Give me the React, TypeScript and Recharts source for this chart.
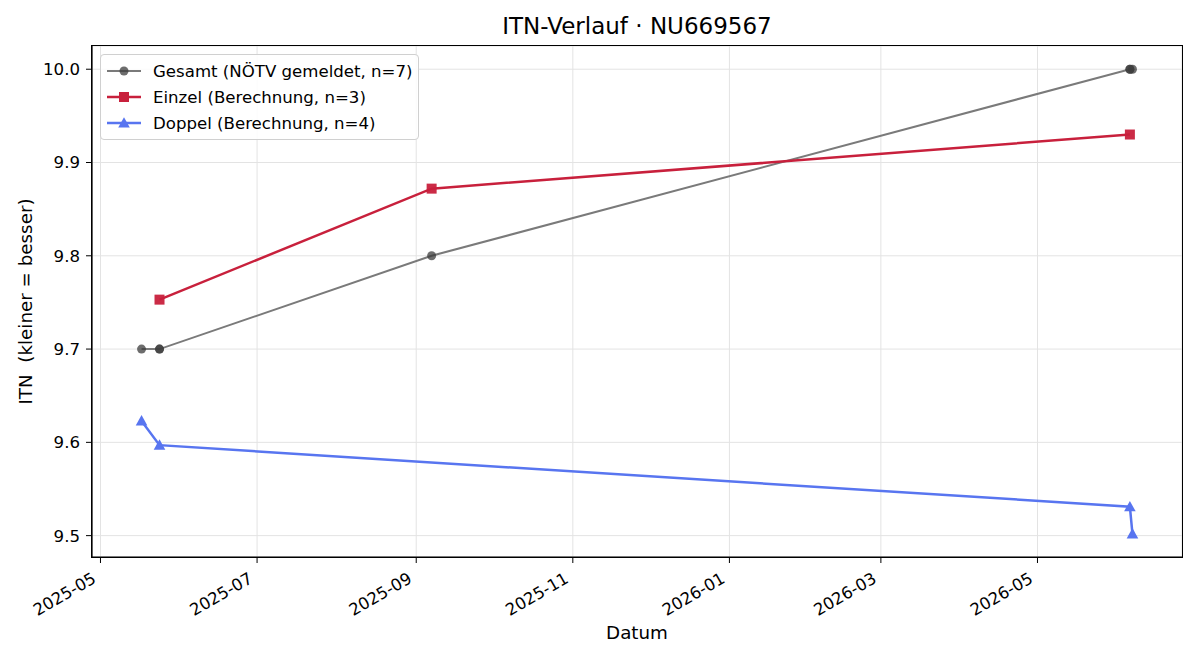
import React from 'react';
import { LineChart, Line, XAxis, YAxis, CartesianGrid } from 'recharts';

const gesamtDates = ['2025-05-17', '2025-05-24', '2025-05-24', '2025-09-07', '2026-06-06', '2026-06-06', '2026-06-07'];
const gesamtValues = [9.7, 9.7, 9.7, 9.8, 10.0, 10.0, 10.0];
const einzelDates = ['2025-05-24', '2025-09-07', '2026-06-06'];
const einzelValues = [9.753, 9.872, 9.93];
const doppelDates = ['2025-05-17', '2025-05-24', '2026-06-06', '2026-06-07'];
const doppelValues = [9.623, 9.597, 9.531, 9.502];
const xTickLabels = ['2025-05', '2025-07', '2025-09', '2025-11', '2026-01', '2026-03', '2026-05'];
const yTicks = [9.5, 9.6, 9.7, 9.8, 9.9, 10.0];

const FONT = '"DejaVu Sans", sans-serif';
const GRAY_LINE = '#7a7a7a';
const GRAY_DOT = '#3c3c3c';
const RED = '#c8203c';
const BLUE = '#5875f0';

const parse = (s: string) => {
  const [y, m, d] = s.split('-').map(Number);
  return Date.UTC(y, m - 1, d || 1);
};

const toData = (dates: string[], values: number[]) => dates.map((d, i) => ({ t: parse(d), v: values[i] }));

const gesamt = toData(gesamtDates, gesamtValues);
const einzel = toData(einzelDates, einzelValues);
const doppel = toData(doppelDates, doppelValues);

const allT = [...gesamt, ...einzel, ...doppel].map((p) => p.t);
const allV = [...gesamt, ...einzel, ...doppel].map((p) => p.v);
const tMin = Math.min(...allT);
const tMax = Math.max(...allT);
const vMin = Math.min(...allV);
const vMax = Math.max(...allV);
const xDomain = [tMin - 0.05 * (tMax - tMin), tMax + 0.05 * (tMax - tMin)];
const yDomain = [vMin - 0.05 * (vMax - vMin), vMax + 0.05 * (vMax - vMin)];
const xTicks = xTickLabels.map(parse);

const fmtMonth = (t: number) => {
  const d = new Date(t);
  return `${d.getUTCFullYear()}-${String(d.getUTCMonth() + 1).padStart(2, '0')}`;
};

const CircleDot = (props: any) => {
  const { cx, cy, index } = props;
  if (cx == null || cy == null) return <g key={`c${index}`} />;
  return <circle key={`c${index}`} cx={cx} cy={cy} r={4.5} fill={GRAY_DOT} fillOpacity={0.75} stroke="none" />;
};

const SquareDot = (props: any) => {
  const { cx, cy, index } = props;
  if (cx == null || cy == null) return <g key={`s${index}`} />;
  return <rect key={`s${index}`} x={cx - 5} y={cy - 5} width={10} height={10} fill={RED} fillOpacity={0.95} />;
};

const TriDot = (props: any) => {
  const { cx, cy, index } = props;
  if (cx == null || cy == null) return <g key={`t${index}`} />;
  const s = 5.8;
  return (
    <polygon
      key={`t${index}`}
      points={`${cx},${cy - s} ${cx - s},${cy + s * 0.8} ${cx + s},${cy + s * 0.8}`}
      fill={BLUE}
    />
  );
};

const XTick = (props: any) => {
  const { x, y, payload } = props;
  return (
    <text
      transform={`translate(${x - 6},${y + 12}) rotate(-30)`}
      textAnchor="end"
      dominantBaseline="central"
      fontFamily={FONT}
      fontSize={16.5}
      fill="#000"
    >
      {fmtMonth(payload.value)}
    </text>
  );
};

const legendItems = [
  { label: 'Gesamt (NÖTV gemeldet, n=7)', color: GRAY_LINE, marker: 'circle' },
  { label: 'Einzel (Berechnung, n=3)', color: RED, marker: 'square' },
  { label: 'Doppel (Berechnung, n=4)', color: BLUE, marker: 'triangle' },
];

const LegendBox = () => (
  <div
    style={{
      position: 'absolute',
      left: 100,
      top: 54,
      border: '1px solid #d0d0d0',
      borderRadius: 4,
      background: 'rgba(255,255,255,0.85)',
      width: 319,
      height: 86,
      boxSizing: 'border-box',
      padding: '3px 0 0 5px',
      fontFamily: FONT,
      fontSize: 16.6,
    }}
  >
    {legendItems.map((it) => (
      <div key={it.label} style={{ display: 'flex', alignItems: 'center', height: 26 }}>
        <svg width={36} height={16} style={{ marginRight: 11 }}>
          <line x1={1} y1={8} x2={35} y2={8} stroke={it.color} strokeWidth={it.marker === 'circle' ? 2 : 2.5} />
          {it.marker === 'circle' && <circle cx={18} cy={8} r={4.5} fill={GRAY_DOT} fillOpacity={0.75} />}
          {it.marker === 'square' && <rect x={13} y={3} width={10} height={10} fill={RED} />}
          {it.marker === 'triangle' && <polygon points="18,2.2 12.2,12.6 23.8,12.6" fill={BLUE} />}
        </svg>
        <span style={{ color: '#000' }}>{it.label}</span>
      </div>
    ))}
  </div>
);

export default function App() {
  return (
    <div style={{ position: 'absolute', left: 0, top: 0, width: 1200, height: 660, background: '#fff' }}>
      <div
        style={{
          position: 'absolute',
          left: 92,
          width: 1090,
          top: 13,
          textAlign: 'center',
          fontFamily: FONT,
          fontSize: 23,
          color: '#000',
        }}
      >
        ITN-Verlauf · NU669567
      </div>
      <LineChart width={1200} height={660} margin={{ top: 46, right: 18, bottom: 0, left: 0 }}>
        <CartesianGrid stroke="#e3e3e3" strokeWidth={1} xAxisId="x" yAxisId="y" />
        <XAxis
          xAxisId="x"
          dataKey="t"
          type="number"
          scale="time"
          domain={xDomain}
          ticks={xTicks}
          allowDataOverflow
          height={103}
          tickSize={6}
          tickLine={{ stroke: '#000' }}
          axisLine={{ stroke: '#000', strokeWidth: 1.2 }}
          tick={<XTick />}
          interval={0}
          label={{
            content: (p: any) => {
              const vb = p.viewBox;
              return (
                <text x={vb.x + vb.width / 2} y={vb.y + 82} textAnchor="middle" fontFamily={FONT} fontSize={18.3} fill="#000">
                  Datum
                </text>
              );
            },
          }}
        />
        <YAxis
          yAxisId="y"
          type="number"
          domain={yDomain}
          ticks={yTicks}
          allowDataOverflow
          width={92}
          tickSize={6}
          tickMargin={6}
          tickLine={{ stroke: '#000' }}
          axisLine={{ stroke: '#000', strokeWidth: 1.2 }}
          tick={{ fontFamily: FONT, fontSize: 16.6, fill: '#000' }}
          tickFormatter={(v: number) => v.toFixed(1)}
          label={{
            content: (p: any) => {
              const vb = p.viewBox;
              const cy = vb.y + vb.height / 2;
              return (
                <text
                  transform={`translate(32,${cy}) rotate(-90)`}
                  textAnchor="middle"
                  fontFamily={FONT}
                  fontSize={18.3}
                  fill="#000"
                  xmlSpace="preserve"
                  style={{ whiteSpace: 'pre' }}
                >
                  {'ITN  (kleiner = besser)'}
                </text>
              );
            },
          }}
        />
        <Line
          xAxisId="x"
          yAxisId="y"
          data={gesamt}
          dataKey="v"
          name="Gesamt (NÖTV gemeldet, n=7)"
          stroke={GRAY_LINE}
          strokeWidth={2}
          dot={CircleDot}
          activeDot={false}
          isAnimationActive={false}
        />
        <Line
          xAxisId="x"
          yAxisId="y"
          data={einzel}
          dataKey="v"
          name="Einzel (Berechnung, n=3)"
          stroke={RED}
          strokeWidth={2.5}
          dot={SquareDot}
          activeDot={false}
          isAnimationActive={false}
        />
        <Line
          xAxisId="x"
          yAxisId="y"
          data={doppel}
          dataKey="v"
          name="Doppel (Berechnung, n=4)"
          stroke={BLUE}
          strokeWidth={2.5}
          dot={TriDot}
          activeDot={false}
          isAnimationActive={false}
        />
      </LineChart>
      <div
        style={{
          position: 'absolute',
          left: 91,
          top: 45,
          width: 1092,
          height: 513,
          boxSizing: 'border-box',
          border: '1.2px solid #000',
          pointerEvents: 'none',
        }}
      />
      <LegendBox />
    </div>
  );
}
